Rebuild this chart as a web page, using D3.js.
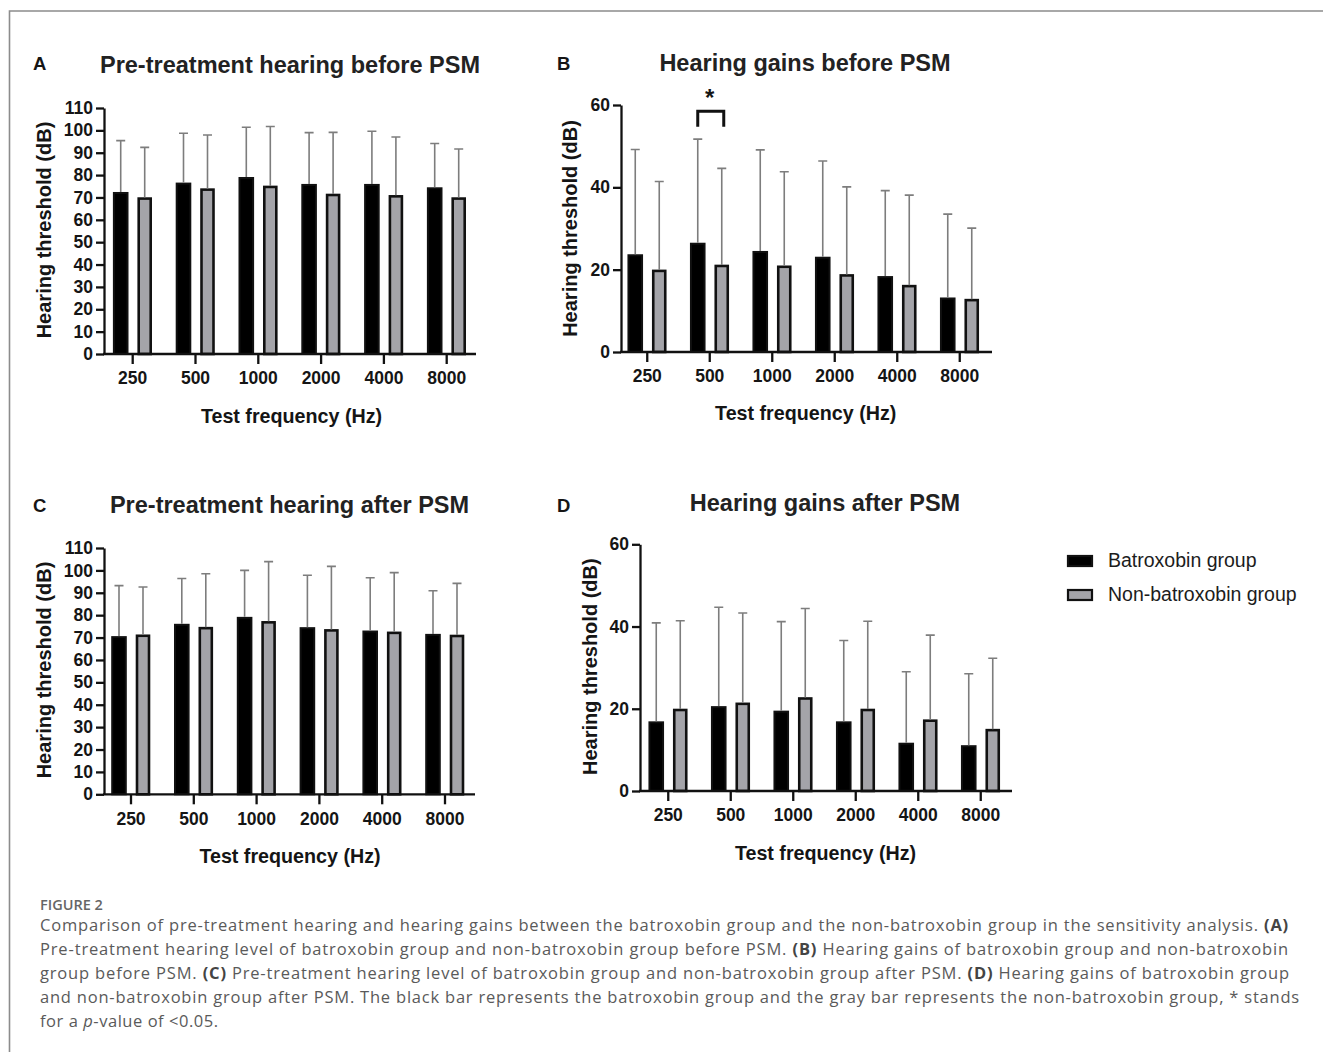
<!DOCTYPE html>
<html lang="en">
<head>
<meta charset="UTF-8">
<title>Figure 2 - Hearing threshold bar charts</title>
<script src="https://d3js.org/d3.v7.min.js"></script>
<style>
  body { margin: 0; background: #fff; }
  .panel text { font-family: "Liberation Sans", Arial, sans-serif; fill: #151515; }
  .tick text { font-weight: bold; font-size: 17.5px; }
  .caption text { font-family: "Open Sans", sans-serif; }
</style>
</head>
<body>
<div id="chart"></div>
<script>

// Categories
const frequencies = ["250", "500", "1000", "2000", "4000", "8000"];

// A: pre-treatment hearing before PSM (mean, SD)
const preBeforeBatMean = [72.0, 76.2, 78.7, 75.6, 75.6, 74.1];
const preBeforeBatSD = [23.4, 22.5, 22.7, 23.4, 24.0, 20.0];
const preBeforeNonMean = [69.5, 73.5, 74.7, 71.1, 70.5, 69.5];
const preBeforeNonSD = [22.9, 24.4, 27.0, 28.0, 26.5, 22.2];

// B: hearing gains before PSM
const gainBeforeBatMean = [23.5, 26.3, 24.3, 22.9, 18.2, 13.0];
const gainBeforeBatSD = [25.7, 25.4, 24.8, 23.5, 21.0, 20.5];
const gainBeforeNonMean = [19.7, 20.9, 20.7, 18.6, 16.0, 12.6];
const gainBeforeNonSD = [21.7, 23.7, 23.1, 21.5, 22.1, 17.5];

// C: pre-treatment hearing after PSM
const preAfterBatMean = [70.2, 75.7, 78.8, 74.2, 72.7, 71.2];
const preAfterBatSD = [23.0, 20.7, 21.2, 23.6, 24.0, 19.7];
const preAfterNonMean = [70.8, 74.2, 76.8, 73.2, 72.1, 70.7];
const preAfterNonSD = [21.8, 24.3, 27.1, 28.6, 26.9, 23.5];

// D: hearing gains after PSM
const gainAfterBatMean = [16.7, 20.4, 19.3, 16.7, 11.5, 10.9];
const gainAfterBatSD = [24.2, 24.3, 21.9, 19.9, 17.5, 17.6];
const gainAfterNonMean = [19.7, 21.2, 22.5, 19.7, 17.1, 14.8];
const gainAfterNonSD = [21.7, 22.1, 21.9, 21.6, 20.8, 17.5];

// Y tick values
const ticksThreshold = [0, 10, 20, 30, 40, 50, 60, 70, 80, 90, 100, 110];
const ticksGain = [0, 20, 40, 60];

const groups = ["Batroxobin group", "Non-batroxobin group"];

const captionLines = [
  "Comparison of pre-treatment hearing and hearing gains between the batroxobin group and the non-batroxobin group in the sensitivity analysis. |(A)|",
  "Pre-treatment hearing level of batroxobin group and non-batroxobin group before PSM. |(B)| Hearing gains of batroxobin group and non-batroxobin",
  "group before PSM. |(C)| Pre-treatment hearing level of batroxobin group and non-batroxobin group after PSM. |(D)| Hearing gains of batroxobin group",
  "and non-batroxobin group after PSM. The black bar represents the batroxobin group and the gray bar represents the non-batroxobin group, * stands",
  "for a _p_-value of <0.05."
];

const colors = {bat: "#000", non: "#a4a4a9", err: "#7d7d7d"};

const svg = d3.select("#chart")
  .append("svg")
  .attr("width", 1323)
  .attr("height", 1052);

svg.append("rect").attr("width", 1323).attr("height", 1052).attr("fill", "#fff");

// frame lines (top and left)
svg.append("path")
  .attr("d", "M9.5,1052 V11 H1323")
  .attr("fill", "none")
  .attr("stroke", "#8c8c8c")
  .attr("stroke-width", 1.6);

function toRows(batMean, batSD, nonMean, nonSD) {
  return frequencies.map((f, i) => ({
    freq: f,
    bars: [
      {key: "bat", mean: batMean[i], sd: batSD[i]},
      {key: "non", mean: nonMean[i], sd: nonSD[i]}
    ]
  }));
}

function drawPanel(p) {
  const g = svg.append("g").attr("class", "panel");

  const x = d3.scaleBand()
    .domain(frequencies)
    .range(p.band)
    .padding(0);

  const y = d3.scaleLinear()
    .domain([0, p.yMax])
    .range([p.y0, p.yTop]);

  const off = {bat: -12, non: 12};

  // panel letter and title
  g.append("text")
    .attr("x", p.letterX).attr("y", p.letterY)
    .style("font-size", "18.5px").style("font-weight", "bold")
    .text(p.letter);

  g.append("text")
    .attr("x", p.titleX).attr("y", p.titleY)
    .attr("text-anchor", "middle")
    .style("font-size", "23.5px").style("font-weight", "bold")
    .style("fill", "#222")
    .text(p.title);

  // bars
  const groupsSel = g.selectAll(".grp")
    .data(p.rows)
    .join("g")
    .attr("class", "grp");

  groupsSel.selectAll("rect")
    .data(d => d.bars.map(b => ({...b, freq: d.freq})))
    .join("rect")
    .attr("x", d => x(d.freq) + x.bandwidth() / 2 + off[d.key] - (d.key === "bat" ? 6.8 : 6))
    .attr("width", d => d.key === "bat" ? 13.6 : 12)
    .attr("y", d => y(d.mean))
    .attr("height", d => y(0) - y(d.mean))
    .attr("fill", d => colors[d.key])
    .attr("stroke", "#111")
    .attr("stroke-width", d => d.key === "bat" ? 2 : 2.6);

  // error bars (upper only)
  groupsSel.selectAll("path.err")
    .data(d => d.bars.map(b => ({...b, freq: d.freq})))
    .join("path")
    .attr("class", "err")
    .attr("d", d => {
      const cx = x(d.freq) + x.bandwidth() / 2 + off[d.key];
      const top = y(d.mean + d.sd);
      return `M${cx},${y(d.mean) - 1} V${top} M${cx - 4.5},${top} H${cx + 4.5}`;
    })
    .attr("fill", "none")
    .attr("stroke", colors.err)
    .attr("stroke-width", 1.6);

  // y axis
  const yAxis = g.append("g")
    .attr("transform", `translate(${p.axisX},0)`)
    .call(d3.axisLeft(y).tickValues(p.ticks).tickSize(8).tickSizeOuter(0).tickPadding(3));
  yAxis.selectAll("path, line").attr("stroke", "#111").attr("stroke-width", 2.3);

  // x axis
  const xAxis = g.append("g")
    .attr("transform", `translate(0,${p.y0})`)
    .call(d3.axisBottom(x).tickSize(10).tickSizeOuter(0).tickPadding(8));
  xAxis.select(".domain").remove();
  xAxis.selectAll("line").attr("stroke", "#111").attr("stroke-width", 2.3);

  g.append("line")
    .attr("x1", p.axisX - 1).attr("x2", p.axisEnd)
    .attr("y1", p.y0).attr("y2", p.y0)
    .attr("stroke", "#111").attr("stroke-width", 2.3);

  // axis titles
  g.append("text")
    .attr("x", p.xTitleX).attr("y", p.xTitleY)
    .attr("text-anchor", "middle")
    .style("font-size", "19.7px").style("font-weight", "bold")
    .text("Test frequency (Hz)");

  g.append("text")
    .attr("transform", `translate(${p.yTitleX},${p.yTitleY}) rotate(-90)`)
    .attr("text-anchor", "middle")
    .style("font-size", "20px").style("font-weight", "bold")
    .text("Hearing threshold (dB)");

  // significance bracket
  if (p.sig) {
    const x1 = x(p.sig.freq) + x.bandwidth() / 2 + off.bat;
    const x2 = x(p.sig.freq) + x.bandwidth() / 2 + off.non + 2;
    g.append("path")
      .attr("d", `M${x1},${y(p.sig.legs)} V${y(p.sig.top)} H${x2} V${y(p.sig.legs)}`)
      .attr("fill", "none")
      .attr("stroke", "#111")
      .attr("stroke-width", 3);
    g.append("text")
      .attr("x", (x1 + x2) / 2 - 1).attr("y", y(p.sig.top) - 5)
      .attr("text-anchor", "middle")
      .style("font-size", "24px").style("font-weight", "bold")
      .text("*");
  }
}

drawPanel({
  letter: "A", letterX: 33, letterY: 70,
  title: "Pre-treatment hearing before PSM", titleX: 290, titleY: 73,
  rows: toRows(preBeforeBatMean, preBeforeBatSD, preBeforeNonMean, preBeforeNonSD),
  axisX: 104, axisEnd: 476, band: [101.3, 478.1],
  y0: 354, yTop: 108, yMax: 110, ticks: ticksThreshold,
  yTitleX: 51, yTitleY: 230, xTitleX: 291.5, xTitleY: 423
});

drawPanel({
  letter: "B", letterX: 557, letterY: 70,
  title: "Hearing gains before PSM", titleX: 805, titleY: 71,
  rows: toRows(gainBeforeBatMean, gainBeforeBatSD, gainBeforeNonMean, gainBeforeNonSD),
  axisX: 621, axisEnd: 992, band: [616, 991],
  y0: 352, yTop: 105, yMax: 60, ticks: ticksGain,
  yTitleX: 577, yTitleY: 228.5, xTitleX: 805.7, xTitleY: 420,
  sig: {freq: "500", top: 58.5, legs: 54.7}
});

drawPanel({
  letter: "C", letterX: 33, letterY: 512,
  title: "Pre-treatment hearing after PSM", titleX: 289.5, titleY: 513,
  rows: toRows(preAfterBatMean, preAfterBatSD, preAfterNonMean, preAfterNonSD),
  axisX: 104, axisEnd: 475, band: [99.6, 476.4],
  y0: 794.3, yTop: 548, yMax: 110, ticks: ticksThreshold,
  yTitleX: 51, yTitleY: 670, xTitleX: 290, xTitleY: 863
});

drawPanel({
  letter: "D", letterX: 557, letterY: 512,
  title: "Hearing gains after PSM", titleX: 825, titleY: 511,
  rows: toRows(gainAfterBatMean, gainAfterBatSD, gainAfterNonMean, gainAfterNonSD),
  axisX: 640, axisEnd: 1012, band: [637, 1012],
  y0: 791, yTop: 544.3, yMax: 60, ticks: ticksGain,
  yTitleX: 597, yTitleY: 666.7, xTitleX: 825.5, xTitleY: 860
});

// Legend
const legend = svg.append("g")
  .attr("class", "panel")
  .attr("transform", "translate(1068,556)");

legend.selectAll("rect")
  .data(groups)
  .join("rect")
  .attr("x", 0)
  .attr("y", (d, i) => i * 34)
  .attr("width", 24)
  .attr("height", 10)
  .attr("fill", (d, i) => i === 0 ? colors.bat : colors.non)
  .attr("stroke", "#111")
  .attr("stroke-width", 2.2);

legend.selectAll("text")
  .data(groups)
  .join("text")
  .attr("x", 40)
  .attr("y", (d, i) => i * 34 + 11)
  .style("font-size", "19.5px")
  .style("fill", "#1c1c1c")
  .text(d => d);

// Caption
const cap = svg.append("g").attr("class", "caption");

cap.append("text")
  .attr("x", 40).attr("y", 910)
  .style("font-size", "14.5px")
  .style("font-weight", "600")
  .style("fill", "#666")
  .text("FIGURE 2");

const lineWidths = [1249, 1249, 1250, 1260, null];

captionLines.forEach((line, i) => {
  const t = cap.append("text")
    .attr("x", 40)
    .attr("y", 931 + i * 24)
    .style("font-size", "16.5px")
    .style("fill", "#5a5a5a");

  // |...| marks bold parts, _..._ marks italic parts
  line.split(/(\|[^|]+\||_[^_]+_)/).filter(s => s.length).forEach(seg => {
    const ts = t.append("tspan");
    if (seg.startsWith("|")) {
      ts.text(seg.slice(1, -1)).style("font-weight", "bold").style("fill", "#444");
    } else if (seg.startsWith("_")) {
      ts.text(seg.slice(1, -1)).style("font-style", "italic");
    } else {
      ts.text(seg);
    }
  });

  // spread the line out to its width with letter spacing
  const natural = t.node().getComputedTextLength();
  const nChars = t.text().length;
  const target = lineWidths[i] || natural * 1.075;
  t.style("letter-spacing", `${(target - natural) / nChars}px`);
});

</script>
</body>
</html>
